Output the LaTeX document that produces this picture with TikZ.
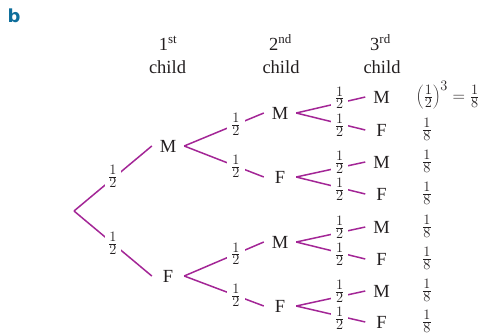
\documentclass[tikz,border=0pt]{standalone}
\usepackage{fontspec}
\setmainfont{Liberation Serif}
\newfontfamily\tagfont{DejaVu Sans}
\definecolor{branch}{RGB}{163,38,150}
\definecolor{tagblue}{RGB}{14,110,155}
\definecolor{txt}{RGB}{35,31,32}
\begin{document}
\begin{tikzpicture}[x=1pt,y=-1pt,
  every node/.style={text=txt},
  lvl/.style={font=\fontsize{18.5}{22}\selectfont, minimum width=32pt, inner sep=0pt, anchor=center},
  hdr/.style={font=\fontsize{18.5}{23}\selectfont, anchor=base, inner sep=0pt},
  br/.style={draw=branch, line width=1.5pt},
  prob/.style={fill=white, inner xsep=4pt, inner ysep=0pt, font=\fontsize{19}{20}\selectfont},
  res/.style={font=\fontsize{19}{20}\selectfont, inner sep=0pt},
]
\useasboundingbox (0,0) rectangle (485,333);
\node[text=tagblue, font=\tagfont\bfseries\fontsize{18}{18}\selectfont, inner sep=0pt] (tag) at (14,16) {b};
% headers
\node[hdr] (h1a) at (168,50) {1\textsuperscript{st}};
\node[hdr] (h1b) at (167.5,73) {child};
\node[hdr] (h2a) at (280.5,50) {2\textsuperscript{nd}};
\node[hdr] (h2b) at (281,73) {child};
\node[hdr] (h3a) at (380.5,50) {3\textsuperscript{rd}};
\node[hdr] (h3b) at (382,73) {child};
% tree
\coordinate (r) at (74,211);
\node[lvl] (m1) at (168,146) {M};
\node[lvl] (f1) at (168,276) {F};
\node[lvl] (m2a) at (280,113) {M};
\node[lvl] (f2a) at (280,177) {F};
\node[lvl] (m2b) at (280,242) {M};
\node[lvl] (f2b) at (280,306) {F};
\node[lvl] (t1) at (381.5,97) {M};
\node[lvl] (t2) at (381.5,130) {F};
\node[lvl] (t3) at (381.5,162) {M};
\node[lvl] (t4) at (381.5,194) {F};
\node[lvl] (t5) at (381.5,227) {M};
\node[lvl] (t6) at (381.5,259) {F};
\node[lvl] (t7) at (381.5,291) {M};
\node[lvl] (t8) at (381.5,322) {F};
\draw[br] (r) -- node[prob,pos=0.5,inner xsep=3pt,yshift=2pt]{$\frac{1}{2}$} (m1.west);
\draw[br] (r) -- node[prob,pos=0.5,inner xsep=3pt]{$\frac{1}{2}$} (f1.west);
\draw[br] (m1.east) -- node[prob,pos=0.65]{$\frac{1}{2}$} (m2a.west);
\draw[br] (m1.east) -- node[prob,pos=0.65]{$\frac{1}{2}$} (f2a.west);
\draw[br] (f1.east) -- node[prob,pos=0.65]{$\frac{1}{2}$} (m2b.west);
\draw[br] (f1.east) -- node[prob,pos=0.65]{$\frac{1}{2}$} (f2b.west);
\draw[br] (m2a.east) -- node[prob,pos=0.63,yshift=5pt]{$\frac{1}{2}$} (t1.west);
\draw[br] (m2a.east) -- node[prob,pos=0.63,yshift=-2pt]{$\frac{1}{2}$} (t2.west);
\draw[br] (f2a.east) -- node[prob,pos=0.63,yshift=5pt]{$\frac{1}{2}$} (t3.west);
\draw[br] (f2a.east) -- node[prob,pos=0.63,yshift=-2pt]{$\frac{1}{2}$} (t4.west);
\draw[br] (m2b.east) -- node[prob,pos=0.63,yshift=5pt]{$\frac{1}{2}$} (t5.west);
\draw[br] (m2b.east) -- node[prob,pos=0.63,yshift=-2pt]{$\frac{1}{2}$} (t6.west);
\draw[br] (f2b.east) -- node[prob,pos=0.63,yshift=5pt]{$\frac{1}{2}$} (t7.west);
\draw[br] (f2b.east) -- node[prob,pos=0.63,yshift=-2pt]{$\frac{1}{2}$} (t8.west);
% results
\node[res, anchor=west] (p1) at (416,95) {$\left(\frac{1}{2}\right)^{3}=\frac{1}{8}$};
\node[res] (p2) at (427,129) {$\frac{1}{8}$};
\node[res] (p3) at (427,161) {$\frac{1}{8}$};
\node[res] (p4) at (427,193) {$\frac{1}{8}$};
\node[res] (p5) at (427,226) {$\frac{1}{8}$};
\node[res] (p6) at (427,258) {$\frac{1}{8}$};
\node[res] (p7) at (427,290) {$\frac{1}{8}$};
\node[res] (p8) at (427,321) {$\frac{1}{8}$};
\end{tikzpicture}
\end{document}
